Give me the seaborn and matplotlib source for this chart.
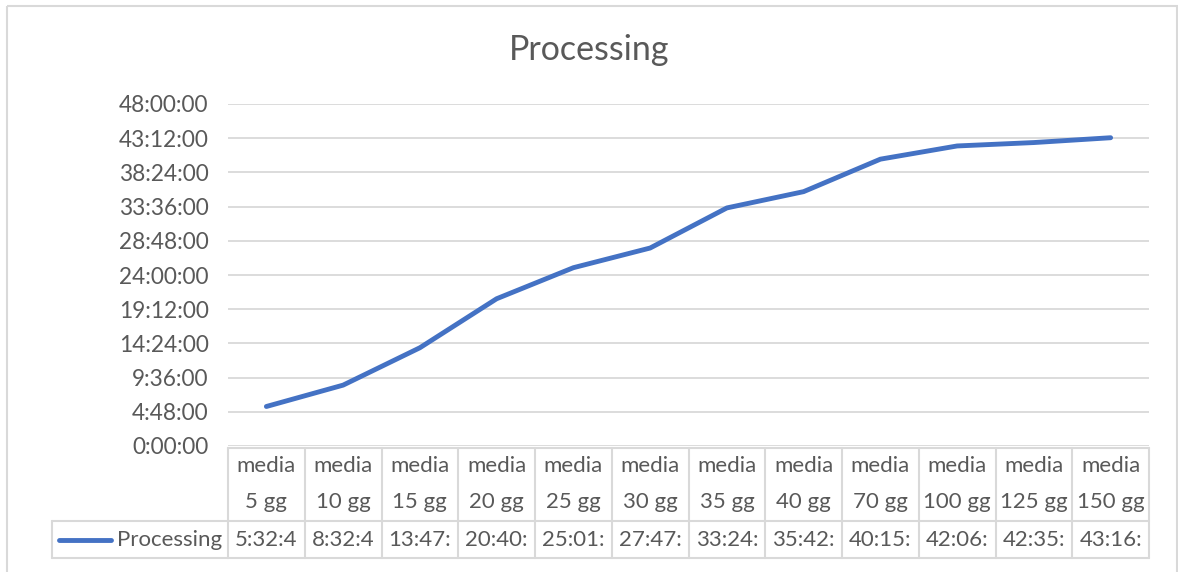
import numpy as np
import matplotlib
matplotlib.use("Agg")
import matplotlib.pyplot as plt
import matplotlib.transforms as mtransforms
from matplotlib.lines import Line2D
from matplotlib.patches import Rectangle
from matplotlib.ticker import FuncFormatter, MultipleLocator
import seaborn as sns

# ---- data -------------------------------------------------------------
series_name = "Processing"
categories = ["media 5 gg", "media 10 gg", "media 15 gg", "media 20 gg",
              "media 25 gg", "media 30 gg", "media 35 gg", "media 40 gg",
              "media 70 gg", "media 100 gg", "media 125 gg", "media 150 gg"]
durations = ["5:32:40", "8:32:40", "13:47:20", "20:40:00", "25:01:30",
             "27:47:10", "33:24:50", "35:42:00", "40:15:30", "42:06:40",
             "42:35:20", "43:16:00"]
y_max_hours = 48
y_step_minutes = 288          # 4:48:00 between gridlines


def to_seconds(s):
    h, m, sec = (int(p) for p in s.split(":"))
    return h * 3600 + m * 60 + sec


def fmt_hms(sec, _pos=None):
    sec = int(round(sec))
    return f"{sec // 3600}:{(sec % 3600) // 60:02d}:{sec % 60:02d}"


seconds = np.array([to_seconds(d) for d in durations])
x_idx = np.arange(len(categories))

# ---- style ------------------------------------------------------------
sns.set_theme(style="white")
plt.rcParams["font.family"] = ["Lato", "DejaVu Sans"]
TEXT = "#595959"
GRID = "#d9d9d9"
BLUE = "#4472C4"
CELL_FS = 16

W, H = 1178, 572
fig = plt.figure(figsize=(W / 100, H / 100), dpi=100)
ax = fig.add_axes([228 / W, (H - 446) / H, (1149 - 228) / W, (446 - 104) / H])

# pixel transform measured from the top-left corner of the figure
pxT = mtransforms.Affine2D().scale(1 / W, -1 / H).translate(0, 1) + fig.transFigure
colT = mtransforms.blended_transform_factory(ax.transData, pxT)

# chart frame
fig.patches.append(Rectangle((6.5, 6), 1170.5, 600, transform=pxT, fill=False,
                             edgecolor=GRID, linewidth=1.5, clip_on=False))

# ---- line -------------------------------------------------------------
sns.lineplot(x=x_idx, y=seconds, ax=ax, color=BLUE, linewidth=3.5,
             solid_capstyle="round", legend=False)

ax.set_xlim(-0.5, len(categories) - 0.5)
ax.set_ylim(0, y_max_hours * 3600)
ax.yaxis.set_major_locator(MultipleLocator(y_step_minutes * 60))
ax.yaxis.set_major_formatter(FuncFormatter(fmt_hms))
ax.grid(axis="y", color=GRID, linewidth=1.3)
ax.set_axisbelow(True)
ax.set_xticks([])
ax.set_xlabel("")
ax.set_ylabel("")
for sp in ax.spines.values():
    sp.set_visible(False)
ax.tick_params(axis="y", length=0, pad=14, labelsize=16.3, labelcolor=TEXT)

fig.text(0.5, (H - 50) / H, series_name, ha="center", va="center",
         fontsize=24.5, color=TEXT)

# ---- data table under the axis ---------------------------------------
n = len(categories)
lo, hi = -0.5, n - 0.5
y_top, y_mid, y_bot = 448, 521, 558
lw = 1.5
lines = [
    ([lo, hi], [y_top, y_top], colT),
    ([lo, hi], [y_mid, y_mid], colT),
    ([lo, hi], [y_bot, y_bot], colT),
]
for xb in np.arange(lo, hi + 1):
    lines.append(([xb, xb], [y_top, y_bot], colT))
# legend cell in the data row
lines += [([52, 228], [y_mid, y_mid], pxT), ([52, 228], [y_bot, y_bot], pxT),
          ([52, 52], [y_mid, y_bot], pxT)]
for xs, ys, tr in lines:
    fig.add_artist(Line2D(xs, ys, transform=tr, color=GRID, linewidth=lw,
                          clip_on=False))

for i, cat in enumerate(categories):
    word, rest = cat.split(" ", 1)
    fig.text(i, 466, word, transform=colT, ha="center", va="center",
             fontsize=CELL_FS, color=TEXT)
    fig.text(i, 502, rest, transform=colT, ha="center", va="center",
             fontsize=CELL_FS, color=TEXT)
    # the cells are too narrow for the full h:mm:ss value
    fig.text(i, 540, fmt_hms(seconds[i])[:6], transform=colT, ha="center",
             va="center", fontsize=CELL_FS, color=TEXT)

fig.add_artist(Line2D([59, 111], [540, 540], transform=pxT, color=BLUE,
                      linewidth=3.5, solid_capstyle="round"))
fig.text(117, 540, series_name, transform=pxT, ha="left", va="center",
         fontsize=CELL_FS, color=TEXT)

fig.savefig("out.png", dpi=100, facecolor="white")
